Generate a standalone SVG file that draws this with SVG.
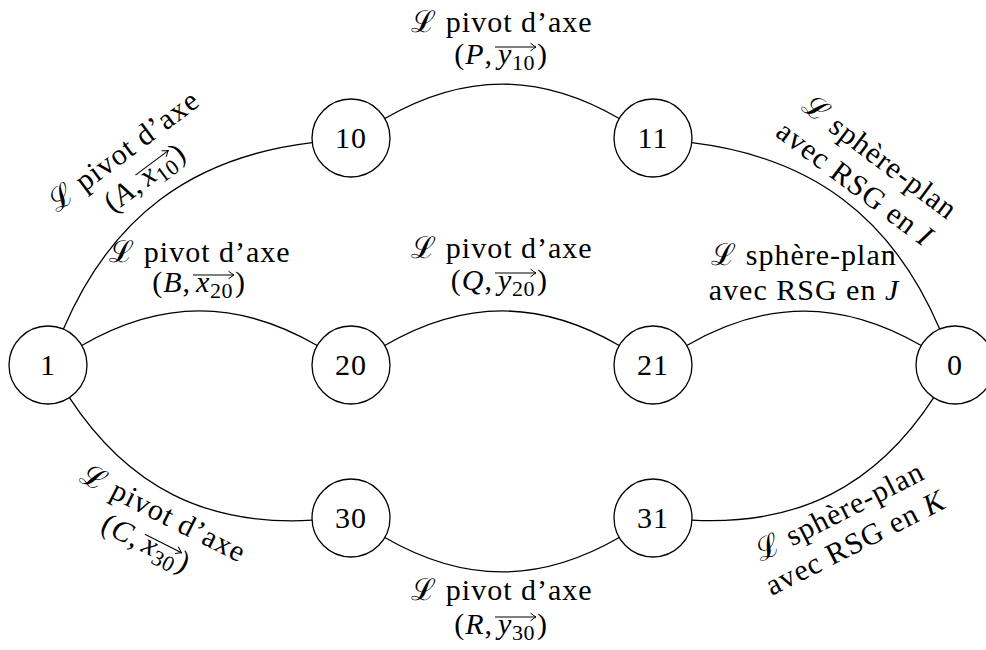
<svg xmlns="http://www.w3.org/2000/svg" width="986" height="650" viewBox="0 0 986 650">
<style>
.t{font-family:"Liberation Serif","DejaVu Serif",serif;font-size:30px;fill:#000;letter-spacing:1px}
.m{text-anchor:middle}
.e{text-anchor:end}
.i{font-style:italic}
.s{font-size:22px;letter-spacing:0.5px}
.edge{fill:none;stroke:#000;stroke-width:1.3}
.node circle{fill:#fff;stroke:#000;stroke-width:1.3}
.vec{stroke:#000;stroke-width:1.1;marker-end:url(#ah)}
</style>
<defs>
<marker id="ah" viewBox="-7 -5 8 10" refX="0" refY="0" markerWidth="8" markerHeight="10" markerUnits="userSpaceOnUse" orient="auto">
<path d="M-5.5,-3.8 Q-1.5,-0.8 0,0 Q-1.5,0.8 -5.5,3.8" fill="none" stroke="#000" stroke-width="1"/>
</marker>
</defs>
<g id="connectors">
<path class="edge" d="M63.4,329.1 C111.4,217.1 191.4,157 312.3,142.6"/>
<path class="edge" d="M384.8,118.5 C464.3,72.6 539.7,72.6 619.2,118.5"/>
<path class="edge" d="M691.7,142.7 C812.3,157.3 892,217.4 939.7,329.1"/>
<path class="edge" d="M81.8,345.5 C161.6,299.4 237.4,299.4 317.2,345.5"/>
<path class="edge" d="M384.8,345.5 C464.3,299.4 539.7,299.4 619.2,345.5"/>
<path class="edge" d="M686.8,345.5 C766.3,299.6 841.7,299.6 921.2,345.5"/>
<path class="edge" d="M69.4,397.6 C127.8,486.7 205.8,526.2 312.1,520.2"/>
<path class="edge" d="M384.8,537.5 C464.3,583.4 539.7,583.4 619.2,537.5"/>
<path class="edge" d="M691.9,520.1 C797.8,525.8 875.8,486.6 933.7,397.7"/>
</g>
<g id="labels">
<g id="lab-A" transform="translate(161.4,198.2) rotate(-36.8)">
<text class="t m" x="-2" y="-51">ℒ pivot d’axe</text>
<g transform="translate(0,-17)">
<text class="t e" x="-9" y="0">(<tspan class="i">A</tspan>,</text>
<text class="t i" x="-4" y="0">x</text>
<text class="t s" x="10" y="6">10</text>
<text class="t" x="35" y="0">)</text>
<line class="vec" x1="-7" y1="-17" x2="34" y2="-17"/>
</g>
</g>
<g id="lab-P" transform="translate(502,0)">
<text class="t m" x="0" y="32">ℒ pivot d’axe</text>
<g transform="translate(0,64)">
<text class="t e" x="-9" y="0">(<tspan class="i">P</tspan>,</text>
<text class="t i" x="-4" y="0">y</text>
<text class="t s" x="10" y="6">10</text>
<text class="t" x="35" y="0">)</text>
<line class="vec" x1="-7" y1="-17" x2="34" y2="-17"/>
</g>
</g>
<g id="lab-I" transform="translate(843.1,199.4) rotate(36.9)">
<text class="t m" x="4" y="-46">ℒ sphère-plan</text>
<text class="t m" x="0" y="-10">avec RSG en <tspan class="i">I</tspan></text>
</g>
<g id="lab-B" transform="translate(200,0)">
<text class="t m" x="0" y="262">ℒ pivot d’axe</text>
<g transform="translate(0,292)">
<text class="t e" x="-9" y="0">(<tspan class="i">B</tspan>,</text>
<text class="t i" x="-4" y="0">x</text>
<text class="t s" x="10" y="6">20</text>
<text class="t" x="35" y="0">)</text>
<line class="vec" x1="-7" y1="-17" x2="34" y2="-17"/>
</g>
</g>
<g id="lab-Q" transform="translate(502,0)">
<text class="t m" x="0" y="258">ℒ pivot d’axe</text>
<g transform="translate(0,290)">
<text class="t e" x="-9" y="0">(<tspan class="i">Q</tspan>,</text>
<text class="t i" x="-4" y="0">y</text>
<text class="t s" x="10" y="6">20</text>
<text class="t" x="35" y="0">)</text>
<line class="vec" x1="-7" y1="-17" x2="34" y2="-17"/>
</g>
</g>
<g id="lab-J" transform="translate(804,0)">
<text class="t m" x="0" y="265">ℒ sphère-plan</text>
<text class="t m" x="0" y="300">avec RSG en <tspan class="i">J</tspan></text>
</g>
<g id="lab-C" transform="translate(172.8,494.5) rotate(26.8)">
<text class="t m" x="0" y="31">ℒ pivot d’axe</text>
<g transform="translate(0,65)">
<text class="t e" x="-9" y="0">(<tspan class="i">C</tspan>,</text>
<text class="t i" x="-4" y="0">x</text>
<text class="t s" x="10" y="6">30</text>
<text class="t" x="35" y="0">)</text>
<line class="vec" x1="-7" y1="-17" x2="34" y2="-17"/>
</g>
</g>
<g id="lab-R" transform="translate(502,0)">
<text class="t m" x="0" y="600">ℒ pivot d’axe</text>
<g transform="translate(0,634)">
<text class="t e" x="-9" y="0">(<tspan class="i">R</tspan>,</text>
<text class="t i" x="-4" y="0">y</text>
<text class="t s" x="10" y="6">30</text>
<text class="t" x="35" y="0">)</text>
<line class="vec" x1="-7" y1="-17" x2="34" y2="-17"/>
</g>
</g>
<g id="lab-K" transform="translate(830.8,494.4) rotate(-26.9)">
<text class="t m" x="0" y="29">ℒ sphère-plan</text>
<text class="t m" x="0" y="64">avec RSG en <tspan class="i">K</tspan></text>
</g>
</g>
<g id="node-1" class="node"><circle cx="48" cy="365" r="39"/><text class="t m" x="48" y="375">1</text></g>
<g id="node-10" class="node"><circle cx="351" cy="138" r="39"/><text class="t m" x="351" y="148">10</text></g>
<g id="node-11" class="node"><circle cx="653" cy="138" r="39"/><text class="t m" x="653" y="148">11</text></g>
<g id="node-20" class="node"><circle cx="351" cy="365" r="39"/><text class="t m" x="351" y="375">20</text></g>
<g id="node-21" class="node"><circle cx="653" cy="365" r="39"/><text class="t m" x="653" y="375">21</text></g>
<g id="node-0" class="node"><circle cx="955" cy="365" r="39"/><text class="t m" x="955" y="375">0</text></g>
<g id="node-30" class="node"><circle cx="351" cy="518" r="39"/><text class="t m" x="351" y="528">30</text></g>
<g id="node-31" class="node"><circle cx="653" cy="518" r="39"/><text class="t m" x="653" y="528">31</text></g>
</svg>
